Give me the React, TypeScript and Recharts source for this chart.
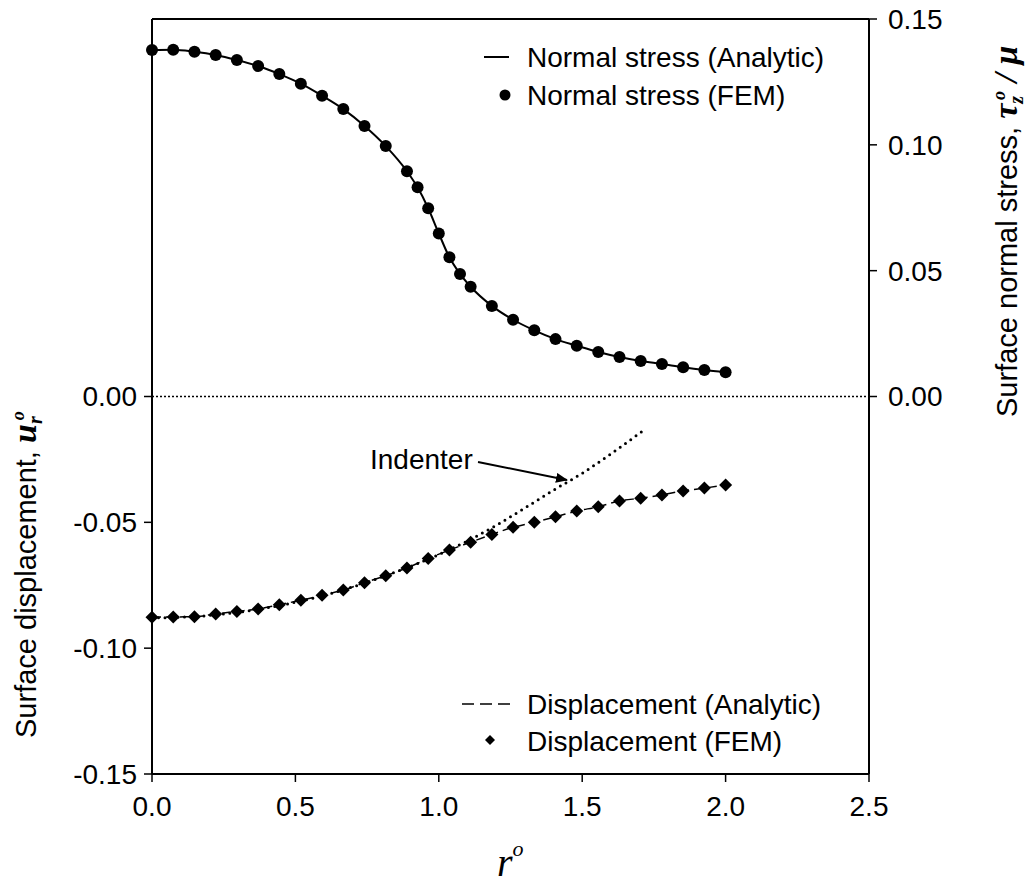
import { ComposedChart, Line, Scatter, XAxis, YAxis, ReferenceLine } from 'recharts';

// radial position r° of the FEM nodes (displacement) and stress sample points
const rDisp = [0, 0.074, 0.148, 0.222, 0.296, 0.37, 0.444, 0.519, 0.593, 0.667, 0.741, 0.815, 0.889, 0.963,
  1.037, 1.111, 1.185, 1.259, 1.333, 1.407, 1.481, 1.556, 1.63, 1.704, 1.778, 1.852, 1.926, 2.0];
const dispFem = [-0.0877, -0.0876, -0.0875, -0.0864, -0.0854, -0.0844, -0.0827, -0.081, -0.079, -0.0769, -0.074,
  -0.0712, -0.0681, -0.0644, -0.061, -0.0579, -0.0548, -0.052, -0.05, -0.0478, -0.0455, -0.0438, -0.0415,
  -0.0404, -0.0391, -0.0375, -0.0364, -0.0352];

const rStress = [0, 0.074, 0.148, 0.222, 0.296, 0.37, 0.444, 0.519, 0.593, 0.667, 0.741, 0.815, 0.889, 0.926,
  0.963, 1.0, 1.037, 1.074, 1.111, 1.185, 1.259, 1.333, 1.407, 1.481, 1.556, 1.63, 1.704, 1.778, 1.852, 1.926, 2.0];
const stressFem = [0.1377, 0.1378, 0.137, 0.1357, 0.1337, 0.1313, 0.1281, 0.1243, 0.1195, 0.1142, 0.1075, 0.0995,
  0.0895, 0.0831, 0.0748, 0.0648, 0.0553, 0.0487, 0.0436, 0.036, 0.0305, 0.0263, 0.0228, 0.0202, 0.0177, 0.0157,
  0.0141, 0.0129, 0.0116, 0.0105, 0.0096];

const rIndenter = [0, 0.2, 0.4, 0.6, 0.8, 1.0, 1.1, 1.2, 1.3, 1.4, 1.5, 1.6, 1.715];
const indenter = [-0.088, -0.087, -0.084, -0.079, -0.0718, -0.0628, -0.0574, -0.0512, -0.0443, -0.0372, -0.0305,
  -0.0228, -0.0133];

const xTicks = [0, 0.5, 1.0, 1.5, 2.0, 2.5];
const leftTicks = [0, -0.05, -0.1, -0.15];
const rightTicks = [0, 0.05, 0.1, 0.15];

const stressData = rStress.map((r, i) => ({ r, v: stressFem[i] }));
const dispData = rDisp.map((r, i) => ({ r, v: dispFem[i] }));
const indenterData = rIndenter.map((r, i) => ({ r, v: indenter[i] }));

const FONT = '"Liberation Sans", Arial, sans-serif';
const SERIF = '"Liberation Serif", "Times New Roman", serif';
const tickStyle = { fill: '#000', fontSize: 28, fontFamily: FONT };
const axisStroke = { stroke: '#000', strokeWidth: 2 };

const Dot = (p: any) => <circle cx={p.cx} cy={p.cy} r={6} fill="#000" />;
const Diamond = (p: any) => (
  <polygon points={`${p.cx},${p.cy - 6.5} ${p.cx + 6.5},${p.cy} ${p.cx},${p.cy + 6.5} ${p.cx - 6.5},${p.cy}`} fill="#000" />
);

export default function App() {
  return (
    <div style={{ position: 'absolute', left: 0, top: 0, width: 1030, height: 886, background: '#fff' }}>
      <ComposedChart width={1030} height={886} margin={{ top: 19, right: 0, bottom: 0, left: 0 }}>
        <XAxis
          type="number"
          dataKey="r"
          domain={[0, 2.5]}
          ticks={xTicks}
          tickFormatter={(v: number) => v.toFixed(1)}
          height={112}
          tick={tickStyle}
          tickSize={8}
          tickMargin={14}
          axisLine={axisStroke}
          tickLine={{ stroke: '#000', strokeWidth: 1.5 }}
        />
        <YAxis
          yAxisId="left"
          type="number"
          domain={[-0.15, 0.15]}
          ticks={leftTicks}
          tickFormatter={(v: number) => v.toFixed(2)}
          width={152}
          tick={tickStyle}
          tickSize={8}
          tickMargin={7}
          axisLine={axisStroke}
          tickLine={{ stroke: '#000', strokeWidth: 1.5 }}
        />
        <YAxis
          yAxisId="right"
          orientation="right"
          type="number"
          domain={[-0.15, 0.15]}
          ticks={rightTicks}
          tickFormatter={(v: number) => v.toFixed(2)}
          width={161}
          tick={{ ...tickStyle, textAnchor: 'start' }}
          tickSize={8}
          tickMargin={11}
          axisLine={axisStroke}
          tickLine={{ stroke: '#000', strokeWidth: 1.5 }}
        />
        <ReferenceLine yAxisId="left" y={0.15} stroke="#000" strokeWidth={2} />
        <ReferenceLine yAxisId="left" y={0} stroke="#000" strokeWidth={1.5} strokeDasharray="2 2" />

        <Line yAxisId="right" data={stressData} dataKey="v" type="monotone" stroke="#000" strokeWidth={2}
          dot={false} isAnimationActive={false} />
        <Scatter yAxisId="right" data={stressData} dataKey="v" shape={Dot} isAnimationActive={false} />

        <Line yAxisId="left" data={indenterData} dataKey="v" type="monotone" stroke="#000" strokeWidth={3}
          strokeDasharray="0 6.5" strokeLinecap="round" dot={false} isAnimationActive={false} />
        <Line yAxisId="left" data={dispData} dataKey="v" type="monotone" stroke="#000" strokeWidth={1.5}
          strokeDasharray="9 5" dot={false} isAnimationActive={false} />
        <Scatter yAxisId="left" data={dispData} dataKey="v" shape={Diamond} isAnimationActive={false} />
      </ComposedChart>

      <svg width={1030} height={886} style={{ position: 'absolute', left: 0, top: 0, pointerEvents: 'none' }}>
        {/* upper legend */}
        <line x1={484} y1={57} x2={509} y2={57} stroke="#000" strokeWidth={2} />
        <text x={527} y={67} fontSize={28} fontFamily={FONT}>Normal stress (Analytic)</text>
        <circle cx={505} cy={95} r={5.5} fill="#000" />
        <text x={527} y={105} fontSize={28} fontFamily={FONT}>Normal stress (FEM)</text>

        {/* lower legend */}
        <line x1={462} y1={704} x2={513} y2={704} stroke="#000" strokeWidth={1.5} strokeDasharray="12 6" />
        <text x={527} y={714} fontSize={28} fontFamily={FONT}>Displacement (Analytic)</text>
        <polygon points="490,735 495,740 490,745 485,740" fill="#000" />
        <text x={527} y={751} fontSize={28} fontFamily={FONT}>Displacement (FEM)</text>

        {/* indenter annotation */}
        <defs>
          <marker id="arr" markerWidth="12" markerHeight="10" refX="11" refY="5" orient="auto" markerUnits="userSpaceOnUse">
            <path d="M0,0 L12,5 L0,10 Z" fill="#000" />
          </marker>
        </defs>
        <text x={370} y={469} fontSize={28} fontFamily={FONT}>Indenter</text>
        <line x1={478} y1={462} x2={567} y2={480} stroke="#000" strokeWidth={2} markerEnd="url(#arr)" />

        {/* left axis title */}
        <text transform="translate(36,738) rotate(-90)" fontSize={29} fontFamily={FONT}>
          Surface displacement,{' '}
          <tspan fontFamily={SERIF} fontStyle="italic" fontWeight="bold" fontSize={34}>u</tspan>
          <tspan fontFamily={SERIF} fontStyle="italic" fontWeight="bold" fontSize={20} dy={6}>r</tspan>
          <tspan fontFamily={SERIF} fontStyle="italic" fontWeight="bold" fontSize={18} dy={-18} dx={-4}>o</tspan>
        </text>

        {/* right axis title */}
        <text transform="translate(1017,417) rotate(-90)" fontSize={29} fontFamily={FONT}>
          Surface normal stress,{' '}
          <tspan fontFamily={SERIF} fontStyle="italic" fontWeight="bold" fontSize={34}>τ</tspan>
          <tspan fontFamily={SERIF} fontStyle="italic" fontWeight="bold" fontSize={20} dy={6}>z</tspan>
          <tspan fontFamily={SERIF} fontStyle="italic" fontWeight="bold" fontSize={18} dy={-18} dx={-4}>o</tspan>
          <tspan fontFamily={SERIF} fontStyle="italic" fontWeight="bold" fontSize={34} dy={12}> / μ</tspan>
        </text>

        {/* x axis title */}
        <text x={497} y={876} fontSize={40} fontFamily={SERIF} fontStyle="italic">
          r<tspan fontSize={22} dy={-20}>o</tspan>
        </text>
      </svg>
    </div>
  );
}
